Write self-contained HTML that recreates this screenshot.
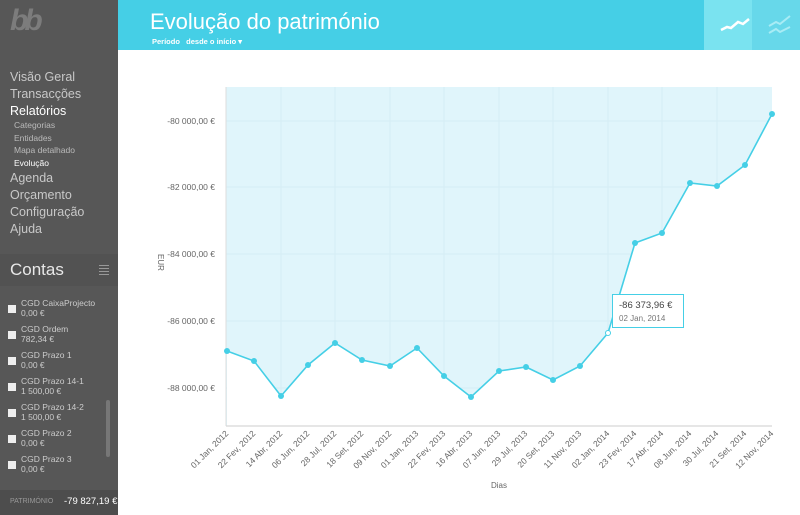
<!DOCTYPE html><html><head><meta charset="utf-8"><style>
body{margin:0;width:800px;height:515px;overflow:hidden;font-family:"Liberation Sans",sans-serif;background:#fff;position:relative}
.sb{position:absolute;left:0;top:0;width:118px;height:515px;background:#575757;color:#c8c8c8}
.sb .n{position:absolute;left:10px;font-size:12.5px}
.sb .s{position:absolute;left:14px;font-size:8.5px;color:#bbb}
.hd{position:absolute;left:118px;top:0;width:682px;height:50px;background:#45cfe6}
.cb{width:8px;height:8px;background:#eee;position:absolute;left:8px}
</style></head><body>
<div class="sb">
<div style="position:absolute;left:10px;top:4px;font:italic bold 30px 'Liberation Sans';color:#7c7c7c;letter-spacing:-4px">bb</div>
<div class="n" style="top:70px">Visão Geral</div>
<div class="n" style="top:87px">Transacções</div>
<div class="n" style="top:104px;color:#fff">Relatórios</div>
<div class="s" style="top:120px">Categorias</div>
<div class="s" style="top:133px">Entidades</div>
<div class="s" style="top:145px">Mapa detalhado</div>
<div class="s" style="top:158px;color:#fff">Evolução</div>
<div class="n" style="top:171px">Agenda</div>
<div class="n" style="top:188px">Orçamento</div>
<div class="n" style="top:205px">Configuração</div>
<div class="n" style="top:222px">Ajuda</div>
<div style="position:absolute;left:0;top:254px;width:118px;height:32px;background:#525252"></div>
<div style="position:absolute;left:10px;top:260px;font-size:17px;color:#e8e8e8">Contas</div>
<div style="position:absolute;left:99px;top:265px;width:10px;height:10px;background:repeating-linear-gradient(#999 0 1px,transparent 1px 3px)"></div>
<div style="position:absolute;left:0;top:298px;width:118px;font-size:8.5px;color:#ccc">
<div class="cb" style="top:7px"></div><div style="position:absolute;left:21px;top:0">CGD CaixaProjecto<br>0,00 €</div>
<div class="cb" style="top:33px"></div><div style="position:absolute;left:21px;top:26px">CGD Ordem<br>782,34 €</div>
<div class="cb" style="top:59px"></div><div style="position:absolute;left:21px;top:52px">CGD Prazo 1<br>0,00 €</div>
<div class="cb" style="top:85px"></div><div style="position:absolute;left:21px;top:78px">CGD Prazo 14-1<br>1 500,00 €</div>
<div class="cb" style="top:111px"></div><div style="position:absolute;left:21px;top:104px">CGD Prazo 14-2<br>1 500,00 €</div>
<div class="cb" style="top:137px"></div><div style="position:absolute;left:21px;top:130px">CGD Prazo 2<br>0,00 €</div>
<div class="cb" style="top:163px"></div><div style="position:absolute;left:21px;top:156px">CGD Prazo 3<br>0,00 €</div>
</div>
<div style="position:absolute;left:106px;top:400px;width:4px;height:57px;background:#777;border-radius:2px"></div>
<div style="position:absolute;left:0;top:490px;width:118px;height:25px;background:#4d4d4d"></div>
<div style="position:absolute;left:10px;top:498px;font-size:7px;color:#999">PATRIMÓNIO</div>
<div style="position:absolute;left:64px;top:496px;font-size:9.5px;color:#fff">-79 827,19 €</div>
</div>
<div class="hd">
<div style="position:absolute;left:32px;top:9px;font-size:22px;color:#fff">Evolução do património</div>
<div style="position:absolute;left:34px;top:37px;font-size:7.5px;color:#fff;font-weight:bold">Período &nbsp; desde o início ▾</div>
<div style="position:absolute;left:586px;top:0;width:48px;height:50px;background:#7ae3f0"></div>
<div style="position:absolute;left:634px;top:0;width:48px;height:50px;background:#67d8ea"></div>
<svg style="position:absolute;left:586px;top:0" width="96" height="50"><polyline points="17,30 23,27 27,28 34,22 39,24 45,19" fill="none" stroke="#fff" stroke-width="2.5"/><g stroke="#a8ecf5" stroke-width="2" fill="none"><polyline points="65,26 72,22 76,24 86,16"/><polyline points="65,33 72,29 76,32 86,27"/></g></svg>
</div>
<svg style="position:absolute;left:0;top:0" width="800" height="515" font-family="Liberation Sans" font-size="8.5" fill="#666">
<rect x="226" y="87" width="546" height="339" fill="#e0f5fb"/>
<g stroke="#d5edf4" stroke-width="1">
<line x1="226" y1="121" x2="772" y2="121"/><line x1="226" y1="187" x2="772" y2="187"/><line x1="226" y1="254" x2="772" y2="254"/><line x1="226" y1="321" x2="772" y2="321"/><line x1="226" y1="388" x2="772" y2="388"/>
<line x1="281" y1="87" x2="281" y2="426"/><line x1="335" y1="87" x2="335" y2="426"/><line x1="390" y1="87" x2="390" y2="426"/><line x1="444" y1="87" x2="444" y2="426"/><line x1="499" y1="87" x2="499" y2="426"/><line x1="553" y1="87" x2="553" y2="426"/><line x1="608" y1="87" x2="608" y2="426"/><line x1="662" y1="87" x2="662" y2="426"/><line x1="717" y1="87" x2="717" y2="426"/>
</g>
<polygon fill="#fff" points="227,426 227,351 254,361 281,396 308,365 335,343 362,360 390,366 417,348 444,376 471,397 499,371 526,367 553,380 580,366 608,333 635,243 662,233 690,183 717,186 745,165 772,114 772,426"/>
<line x1="226" y1="426" x2="772" y2="426" stroke="#ccc"/><line x1="226" y1="87" x2="226" y2="426" stroke="#ddd"/>
<polyline fill="none" stroke="#45cfe6" stroke-width="1.6" points="227,351 254,361 281,396 308,365 335,343 362,360 390,366 417,348 444,376 471,397 499,371 526,367 553,380 580,366 608,333 635,243 662,233 690,183 717,186 745,165 772,114"/>
<g fill="#45cfe6"><circle cx="227" cy="351" r="3"/><circle cx="254" cy="361" r="3"/><circle cx="281" cy="396" r="3"/><circle cx="308" cy="365" r="3"/><circle cx="335" cy="343" r="3"/><circle cx="362" cy="360" r="3"/><circle cx="390" cy="366" r="3"/><circle cx="417" cy="348" r="3"/><circle cx="444" cy="376" r="3"/><circle cx="471" cy="397" r="3"/><circle cx="499" cy="371" r="3"/><circle cx="526" cy="367" r="3"/><circle cx="553" cy="380" r="3"/><circle cx="580" cy="366" r="3"/><circle cx="635" cy="243" r="3"/><circle cx="662" cy="233" r="3"/><circle cx="690" cy="183" r="3"/><circle cx="717" cy="186" r="3"/><circle cx="745" cy="165" r="3"/><circle cx="772" cy="114" r="3"/></g>
<circle cx="608" cy="333" r="2.5" fill="#fff" stroke="#45cfe6"/>
<g text-anchor="end"><text x="215" y="124">-80 000,00 €</text><text x="215" y="190">-82 000,00 €</text><text x="215" y="257">-84 000,00 €</text><text x="215" y="324">-86 000,00 €</text><text x="215" y="391">-88 000,00 €</text></g>
<text transform="translate(158,254) rotate(90)" font-size="8">EUR</text>
<text x="499" y="488" text-anchor="middle" font-size="8">Dias</text>
<g text-anchor="end" font-size="8.5">
<text transform="translate(229,434) rotate(-45)">01 Jan, 2012</text><text transform="translate(256,434) rotate(-45)">22 Fev, 2012</text><text transform="translate(283,434) rotate(-45)">14 Abr, 2012</text><text transform="translate(310,434) rotate(-45)">06 Jun, 2012</text><text transform="translate(337,434) rotate(-45)">28 Jul, 2012</text><text transform="translate(364,434) rotate(-45)">18 Set, 2012</text><text transform="translate(392,434) rotate(-45)">09 Nov, 2012</text><text transform="translate(419,434) rotate(-45)">01 Jan, 2013</text><text transform="translate(446,434) rotate(-45)">22 Fev, 2013</text><text transform="translate(473,434) rotate(-45)">16 Abr, 2013</text><text transform="translate(501,434) rotate(-45)">07 Jun, 2013</text><text transform="translate(528,434) rotate(-45)">29 Jul, 2013</text><text transform="translate(555,434) rotate(-45)">20 Set, 2013</text><text transform="translate(582,434) rotate(-45)">11 Nov, 2013</text><text transform="translate(610,434) rotate(-45)">02 Jan, 2014</text><text transform="translate(637,434) rotate(-45)">23 Fev, 2014</text><text transform="translate(664,434) rotate(-45)">17 Abr, 2014</text><text transform="translate(692,434) rotate(-45)">08 Jun, 2014</text><text transform="translate(719,434) rotate(-45)">30 Jul, 2014</text><text transform="translate(747,434) rotate(-45)">21 Set, 2014</text><text transform="translate(774,434) rotate(-45)">12 Nov, 2014</text>
</g>
<rect x="612.5" y="294.5" width="71" height="33" fill="#fff" stroke="#45cfe6"/>
<text x="619" y="308" font-size="9.5" fill="#444">-86 373,96 €</text>
<text x="619" y="321" font-size="8" fill="#777">02 Jan, 2014</text>
</svg>
</body></html>
